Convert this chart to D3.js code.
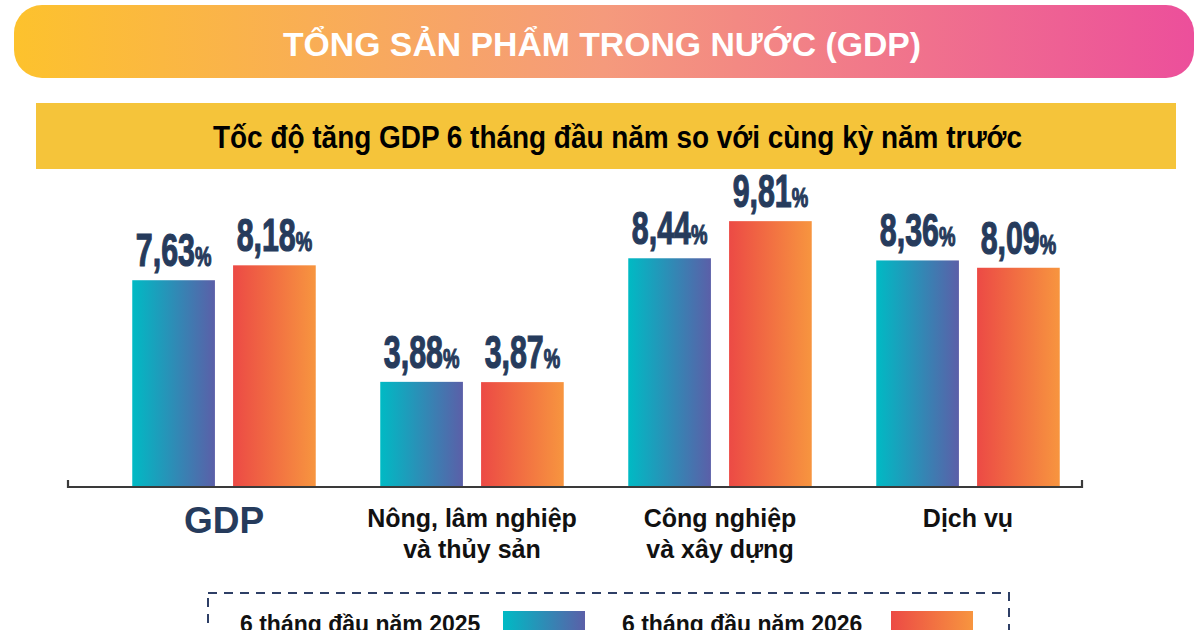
<!DOCTYPE html>
<html>
<head>
<meta charset="utf-8">
<script src="https://cdn.jsdelivr.net/npm/d3@7"></script>
<style>
  html, body { margin: 0; padding: 0; background: #ffffff; }
  svg { display: block; }
  text { font-family: "Liberation Sans", Arial, sans-serif; }
</style>
</head>
<body>
<svg id="chart" width="1200" height="630"></svg>
<script>
// ---- data ----
const titleText = "TỔNG SẢN PHẨM TRONG NƯỚC (GDP)";
const subtitleText = "Tốc độ tăng GDP 6 tháng đầu năm so với cùng kỳ năm trước";
const categories = ["GDP", "Nông, lâm nghiệp và thủy sản", "Công nghiệp và xây dựng", "Dịch vụ"];
const categoryLines = [["GDP"], ["Nông, lâm nghiệp", "và thủy sản"], ["Công nghiệp", "và xây dựng"], ["Dịch vụ"]];
const seriesNames = ["6 tháng đầu năm 2025", "6 tháng đầu năm 2026"];
const values2025 = [7.63, 3.88, 8.44, 8.36];
const values2026 = [8.18, 3.87, 9.81, 8.09];

const rows = categories.map((c, i) => ({ cat: c, lines: categoryLines[i], vals: [values2025[i], values2026[i]] }));

const svg = d3.select("#chart");
const defs = svg.append("defs");

// gradients
function hGrad(id, stops) {
  const g = defs.append("linearGradient").attr("id", id)
    .attr("x1", "0%").attr("x2", "100%").attr("y1", "0%").attr("y2", "0%");
  stops.forEach(s => g.append("stop").attr("offset", s[0]).attr("stop-color", s[1]));
}
hGrad("gBanner", [["0%", "#FDC22D"], ["50%", "#F59A7C"], ["100%", "#EC4F9B"]]);
hGrad("g2025", [["0%", "#00BAC4"], ["100%", "#5B5FA8"]]);
hGrad("g2026", [["0%", "#EC4A45"], ["100%", "#F7953F"]]);
const seriesFill = ["url(#g2025)", "url(#g2026)"];

// ---- header ----
svg.append("rect").attr("x", 14).attr("y", 5).attr("width", 1180).attr("height", 73)
  .attr("rx", 28).attr("fill", "url(#gBanner)");
svg.append("text").attr("x", 283).attr("y", 56)
  .attr("textLength", 638).attr("lengthAdjust", "spacingAndGlyphs")
  .attr("font-size", 33).attr("font-weight", "bold").attr("fill", "#ffffff")
  .text(titleText);

svg.append("rect").attr("x", 36).attr("y", 103).attr("width", 1140).attr("height", 66)
  .attr("fill", "#F5C43A");
svg.append("text").attr("x", 213).attr("y", 148)
  .attr("textLength", 809).attr("lengthAdjust", "spacingAndGlyphs")
  .attr("font-size", 31).attr("font-weight", "bold").attr("fill", "#000000")
  .text(subtitleText);

// ---- scales ----
const x0 = d3.scaleBand().domain(categories).range([100, 1092]).padding(0);
const x1 = d3.scaleBand().domain([0, 1]).range([0, x0.bandwidth()])
  .paddingInner(0.18).paddingOuter(0.32);
const y = d3.scaleLinear().domain([0, 10]).range([487, 216]);

// ---- bars ----
const groups = svg.append("g").selectAll("g.grp").data(rows).join("g")
  .attr("class", "grp")
  .attr("transform", d => `translate(${x0(d.cat)},0)`);

groups.selectAll("rect").data(d => d.vals.map((v, k) => ({ v, k }))).join("rect")
  .attr("x", d => x1(d.k))
  .attr("width", x1.bandwidth())
  .attr("y", d => y(d.v))
  .attr("height", d => y(0) - y(d.v))
  .attr("fill", d => seriesFill[d.k]);

// value labels
const fmt = v => d3.format(".2f")(v).replace(".", ",");
const lab = groups.selectAll("g.lab").data(d => d.vals.map((v, k) => ({ v, k }))).join("g")
  .attr("class", "lab")
  .attr("transform", d => `translate(${x1(d.k) + x1.bandwidth() / 2},${y(d.v) - 14}) scale(0.66,1)`);
const lt = lab.append("text").attr("text-anchor", "middle")
  .attr("font-weight", "bold").attr("fill", "#263B5C")
  .attr("stroke", "#263B5C").attr("stroke-width", 1.2);
lt.append("tspan").attr("font-size", 46).text(d => fmt(d.v));
lt.append("tspan").attr("font-size", 28).text("%");

// ---- axis line ----
const axisG = svg.append("g");
axisG.append("path")
  .attr("d", d3.line()([[68, 480], [68, 487], [1082, 487], [1082, 480]]))
  .attr("fill", "none").attr("stroke", "#3a3a3a").attr("stroke-width", 2.2);

// category labels
const catG = svg.append("g").selectAll("text.cat").data(rows).join("text")
  .attr("class", "cat")
  .attr("text-anchor", "middle")
  .attr("x", d => x0(d.cat) + x0.bandwidth() / 2)
  .attr("y", (d, i) => i === 0 ? 533 : 527)
  .attr("font-weight", "bold")
  .attr("font-size", (d, i) => i === 0 ? 37 : 25)
  .attr("fill", (d, i) => i === 0 ? "#263B5C" : "#111111");
catG.selectAll("tspan").data(d => d.lines).join("tspan")
  .attr("x", function () { return d3.select(this.parentNode).attr("x"); })
  .attr("dy", (d, i) => i === 0 ? 0 : 31)
  .text(d => d);

// ---- legend ----
const leg = svg.append("g");
leg.append("rect").attr("x", 208).attr("y", 593).attr("width", 801).attr("height", 70)
  .attr("fill", "none").attr("stroke", "#2E3F66").attr("stroke-width", 2)
  .attr("stroke-dasharray", "9,7");
const legX = d3.scalePoint().domain(seriesNames).range([240, 622]);
const legItems = leg.selectAll("g.li").data(seriesNames).join("g")
  .attr("class", "li")
  .attr("transform", d => `translate(${legX(d)},0)`);
legItems.append("text").attr("x", 0).attr("y", 632)
  .attr("font-size", 23).attr("font-weight", "bold").attr("fill", "#111111")
  .text(d => d);
legItems.append("rect").attr("x", (d, i) => i === 0 ? 263 : 269).attr("y", 611)
  .attr("width", 82).attr("height", 40)
  .attr("fill", (d, i) => seriesFill[i]);
</script>
</body>
</html>
